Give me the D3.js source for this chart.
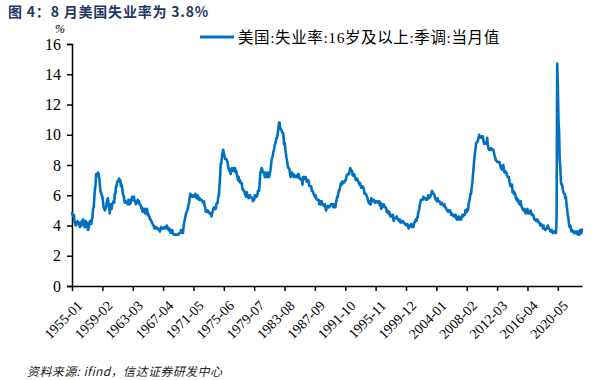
<!DOCTYPE html>
<html>
<head>
<meta charset="utf-8">
<script src="https://cdn.jsdelivr.net/npm/d3@7"></script>
<style>
    body { margin: 0; background: #fff; }
    svg { display: block; }
</style>
</head>
<body>
<svg id="chart" width="603" height="380"></svg>
<script>
// Monthly US unemployment rate (%), one row per year starting 1955
const startYear = 1955;
const yearlyRows = [
    [4.9, 4.7, 4.6, 4.7, 4.3, 4.2, 4.0, 4.2, 4.1, 4.3, 4.2, 4.2],
    [4.0, 3.9, 4.2, 4.0, 4.3, 4.3, 4.4, 4.1, 3.9, 3.9, 4.3, 4.2],
    [4.2, 3.9, 3.7, 3.9, 4.1, 4.3, 4.2, 4.1, 4.4, 4.5, 5.1, 5.2],
    [5.8, 6.4, 6.7, 7.4, 7.4, 7.3, 7.5, 7.4, 7.1, 6.7, 6.2, 6.2],
    [6.0, 5.9, 5.6, 5.2, 5.1, 5.0, 5.1, 5.2, 5.5, 5.7, 5.8, 5.3],
    [5.2, 4.8, 5.4, 5.2, 5.1, 5.4, 5.5, 5.6, 5.5, 6.1, 6.1, 6.6],
    [6.6, 6.9, 6.9, 7.0, 7.1, 6.9, 7.0, 6.6, 6.7, 6.5, 6.1, 6.0],
    [5.8, 5.5, 5.6, 5.6, 5.5, 5.5, 5.4, 5.7, 5.6, 5.4, 5.7, 5.5],
    [5.7, 5.9, 5.7, 5.7, 5.9, 5.6, 5.6, 5.4, 5.5, 5.5, 5.7, 5.5],
    [5.6, 5.4, 5.4, 5.3, 5.1, 5.2, 4.9, 5.0, 5.1, 5.1, 4.8, 5.0],
    [4.9, 5.1, 4.7, 4.8, 4.6, 4.6, 4.4, 4.4, 4.3, 4.2, 4.1, 4.0],
    [4.0, 3.8, 3.8, 3.8, 3.9, 3.8, 3.8, 3.8, 3.7, 3.7, 3.6, 3.8],
    [3.9, 3.8, 3.8, 3.8, 3.8, 3.9, 3.8, 3.8, 3.8, 4.0, 3.9, 3.8],
    [3.7, 3.8, 3.7, 3.5, 3.5, 3.7, 3.7, 3.5, 3.4, 3.4, 3.4, 3.4],
    [3.4, 3.4, 3.4, 3.4, 3.4, 3.5, 3.5, 3.5, 3.7, 3.7, 3.5, 3.5],
    [3.9, 4.2, 4.4, 4.6, 4.8, 4.9, 5.0, 5.1, 5.4, 5.5, 5.9, 6.1],
    [5.9, 5.9, 6.0, 5.9, 5.9, 5.9, 6.0, 6.1, 6.0, 5.8, 6.0, 6.0],
    [5.8, 5.7, 5.8, 5.7, 5.7, 5.7, 5.6, 5.6, 5.5, 5.6, 5.3, 5.2],
    [4.9, 5.0, 4.9, 5.0, 4.9, 4.9, 4.8, 4.8, 4.8, 4.6, 4.8, 4.9],
    [5.1, 5.2, 5.1, 5.1, 5.1, 5.4, 5.5, 5.5, 5.9, 6.0, 6.6, 7.2],
    [8.1, 8.1, 8.6, 8.8, 9.0, 8.8, 8.6, 8.4, 8.4, 8.4, 8.3, 8.2],
    [7.9, 7.7, 7.6, 7.7, 7.4, 7.6, 7.8, 7.8, 7.6, 7.7, 7.8, 7.8],
    [7.5, 7.6, 7.4, 7.2, 7.0, 7.2, 6.9, 7.0, 6.8, 6.8, 6.8, 6.4],
    [6.4, 6.3, 6.3, 6.1, 6.0, 5.9, 6.2, 5.9, 6.0, 5.8, 5.9, 6.0],
    [5.9, 5.9, 5.8, 5.8, 5.6, 5.7, 5.7, 6.0, 5.9, 6.0, 5.9, 6.0],
    [6.3, 6.3, 6.3, 6.9, 7.5, 7.6, 7.8, 7.7, 7.5, 7.5, 7.5, 7.2],
    [7.5, 7.4, 7.4, 7.2, 7.5, 7.5, 7.2, 7.4, 7.6, 7.9, 8.3, 8.5],
    [8.6, 8.9, 9.0, 9.3, 9.4, 9.6, 9.8, 9.8, 10.1, 10.4, 10.8, 10.8],
    [10.4, 10.4, 10.3, 10.2, 10.1, 10.1, 9.4, 9.5, 9.2, 8.8, 8.5, 8.3],
    [8.0, 7.8, 7.8, 7.7, 7.4, 7.2, 7.5, 7.5, 7.3, 7.4, 7.2, 7.3],
    [7.3, 7.2, 7.2, 7.3, 7.2, 7.4, 7.4, 7.1, 7.1, 7.1, 7.0, 7.0],
    [6.7, 7.2, 7.2, 7.1, 7.2, 7.2, 7.0, 6.9, 7.0, 7.0, 6.9, 6.6],
    [6.6, 6.6, 6.6, 6.3, 6.3, 6.2, 6.1, 6.0, 5.9, 6.0, 5.8, 5.7],
    [5.7, 5.7, 5.7, 5.4, 5.6, 5.4, 5.4, 5.6, 5.4, 5.4, 5.3, 5.3],
    [5.4, 5.2, 5.0, 5.2, 5.2, 5.3, 5.2, 5.2, 5.3, 5.3, 5.4, 5.4],
    [5.4, 5.3, 5.2, 5.4, 5.4, 5.2, 5.5, 5.7, 5.9, 5.9, 6.2, 6.3],
    [6.4, 6.6, 6.8, 6.7, 6.9, 6.9, 6.8, 6.9, 6.9, 7.0, 7.0, 7.3],
    [7.3, 7.4, 7.4, 7.4, 7.6, 7.8, 7.7, 7.6, 7.6, 7.3, 7.4, 7.4],
    [7.3, 7.1, 7.0, 7.1, 7.1, 7.0, 6.9, 6.8, 6.7, 6.8, 6.6, 6.5],
    [6.6, 6.6, 6.5, 6.4, 6.1, 6.1, 6.1, 6.0, 5.9, 5.8, 5.6, 5.5],
    [5.6, 5.4, 5.4, 5.8, 5.6, 5.6, 5.7, 5.7, 5.6, 5.5, 5.6, 5.6],
    [5.6, 5.5, 5.5, 5.6, 5.6, 5.3, 5.5, 5.1, 5.2, 5.2, 5.4, 5.4],
    [5.3, 5.2, 5.2, 5.1, 4.9, 5.0, 4.9, 4.8, 4.9, 4.7, 4.6, 4.7],
    [4.6, 4.6, 4.7, 4.3, 4.4, 4.5, 4.5, 4.5, 4.6, 4.5, 4.4, 4.4],
    [4.3, 4.4, 4.2, 4.3, 4.2, 4.3, 4.3, 4.2, 4.2, 4.1, 4.1, 4.0],
    [4.0, 4.1, 4.0, 3.8, 4.0, 4.0, 4.0, 4.1, 3.9, 3.9, 3.9, 3.9],
    [4.2, 4.2, 4.3, 4.4, 4.3, 4.5, 4.6, 4.9, 5.0, 5.3, 5.5, 5.7],
    [5.7, 5.7, 5.7, 5.9, 5.8, 5.8, 5.8, 5.7, 5.7, 5.7, 5.9, 6.0],
    [5.8, 5.9, 5.9, 6.0, 6.1, 6.3, 6.2, 6.1, 6.1, 6.0, 5.8, 5.7],
    [5.7, 5.6, 5.8, 5.6, 5.6, 5.6, 5.5, 5.4, 5.4, 5.5, 5.4, 5.4],
    [5.3, 5.4, 5.2, 5.2, 5.1, 5.0, 5.0, 4.9, 5.0, 5.0, 5.0, 4.9],
    [4.7, 4.8, 4.7, 4.7, 4.6, 4.6, 4.7, 4.7, 4.5, 4.4, 4.5, 4.4],
    [4.6, 4.5, 4.4, 4.5, 4.4, 4.6, 4.7, 4.6, 4.7, 4.7, 4.7, 5.0],
    [5.0, 4.9, 5.1, 5.0, 5.4, 5.6, 5.8, 6.1, 6.1, 6.5, 6.8, 7.3],
    [7.8, 8.3, 8.7, 9.0, 9.4, 9.5, 9.5, 9.6, 9.8, 10.0, 9.9, 9.9],
    [9.8, 9.8, 9.9, 9.9, 9.6, 9.4, 9.4, 9.5, 9.5, 9.4, 9.8, 9.3],
    [9.1, 9.0, 9.0, 9.1, 9.0, 9.1, 9.0, 9.0, 9.0, 8.8, 8.6, 8.5],
    [8.3, 8.3, 8.2, 8.2, 8.2, 8.2, 8.2, 8.0, 7.8, 7.8, 7.7, 7.9],
    [8.0, 7.7, 7.5, 7.6, 7.5, 7.5, 7.3, 7.2, 7.2, 7.2, 6.9, 6.7],
    [6.6, 6.7, 6.7, 6.2, 6.3, 6.1, 6.2, 6.1, 5.9, 5.7, 5.8, 5.6],
    [5.7, 5.5, 5.4, 5.4, 5.6, 5.3, 5.2, 5.1, 5.0, 5.0, 5.1, 5.0],
    [4.8, 4.9, 5.0, 5.1, 4.8, 4.9, 4.8, 4.9, 5.0, 4.9, 4.7, 4.7],
    [4.7, 4.6, 4.4, 4.4, 4.4, 4.3, 4.3, 4.4, 4.3, 4.2, 4.2, 4.1],
    [4.0, 4.1, 4.0, 4.0, 3.8, 4.0, 3.8, 3.8, 3.7, 3.8, 3.8, 3.9],
    [4.0, 3.8, 3.8, 3.7, 3.6, 3.6, 3.7, 3.6, 3.5, 3.6, 3.6, 3.6],
    [3.5, 3.5, 4.4, 14.7, 13.2, 11.0, 10.2, 8.4, 7.8, 6.9, 6.7, 6.7],
    [6.4, 6.2, 6.1, 6.1, 5.8, 5.9, 5.4, 5.1, 4.7, 4.5, 4.1, 3.9],
    [4.0, 3.8, 3.6, 3.7, 3.6, 3.6, 3.5, 3.6, 3.5, 3.6, 3.6, 3.5],
    [3.4, 3.6, 3.5, 3.4, 3.7, 3.6, 3.5, 3.8]
];
const yTicks = [0, 2, 4, 6, 8, 10, 12, 14, 16];
const tickStep = 49; // months between x labels

const titleText = '图 4：8 月美国失业率为 3.8%';
const legendText = '美国:失业率:16岁及以上:季调:当月值';
const sourceText = '资料来源: ifind，信达证券研发中心';

// flatten into month records
const data = [];
yearlyRows.forEach((row, i) => {
    row.forEach((v, m) => {
        data.push({ label: `${startYear + i}-${String(m + 1).padStart(2, '0')}`, value: v });
    });
});

const svg = d3.select('#chart');
const margin = { top: 44, right: 21, bottom: 94, left: 72 };
const width = 603 - margin.left - margin.right;
const height = 380 - margin.top - margin.bottom;
const serif = '"Liberation Serif", "Times New Roman", "Noto Sans CJK SC", serif';

const g = svg.append('g')
    .attr('transform', `translate(${margin.left},${margin.top})`);

// x is the month index, y the rate
const x = d3.scaleLinear()
    .domain([0, data.length - 1])
    .range([0, width]);

const y = d3.scaleLinear()
    .domain([0, 16])
    .range([height, 0]);

// Y-axis
const yAxis = g.append('g')
    .call(d3.axisLeft(y).tickValues(yTicks).tickSize(5).tickPadding(6));
yAxis.select('.domain').attr('stroke', '#000').attr('stroke-width', 1.5);
yAxis.selectAll('line').attr('stroke', '#000').attr('stroke-width', 1.5);
yAxis.selectAll('text')
    .attr('font-family', serif)
    .attr('font-size', 16)
    .attr('fill', '#000');

// % unit above the axis, just over the 16
svg.append('text')
    .attr('x', 55)
    .attr('y', 33)
    .attr('font-family', serif)
    .attr('font-style', 'italic')
    .attr('font-size', 12)
    .text('%');

// X-axis
const tickIdx = d3.range(0, data.length, tickStep);
const xAxis = g.append('g')
    .attr('transform', `translate(0,${height})`)
    .call(d3.axisBottom(x)
        .tickValues(tickIdx)
        .tickFormat(i => data[i].label)
        .tickSize(5)
        .tickSizeOuter(0));
xAxis.select('.domain').attr('stroke', '#000').attr('stroke-width', 1.5);
xAxis.selectAll('line').attr('stroke', '#000').attr('stroke-width', 1.5);
xAxis.selectAll('text')
    .attr('font-family', serif)
    .attr('font-size', 14)
    .attr('fill', '#000')
    .attr('text-anchor', 'end')
    .attr('dy', null)
    .attr('transform', 'translate(5,15) rotate(-45)');

// The line
const line = d3.line()
    .x((d, i) => x(i))
    .y(d => y(d.value));

g.append('path')
    .datum(data)
    .attr('fill', 'none')
    .attr('stroke', '#0070C0')
    .attr('stroke-width', 2.6)
    .attr('stroke-linejoin', 'round')
    .attr('d', line);

// Legend
svg.append('line')
    .attr('x1', 200).attr('x2', 234)
    .attr('y1', 37).attr('y2', 37)
    .attr('stroke', '#0070C0')
    .attr('stroke-width', 3);
svg.append('text')
    .attr('x', 238)
    .attr('y', 43)
    .attr('font-family', serif)
    .attr('font-size', 15.5)
    .attr('letter-spacing', 0.6)
    .attr('fill', '#000')
    .text(legendText);

// Title
svg.append('text')
    .attr('x', 8)
    .attr('y', 17)
    .attr('font-family', '"Noto Sans CJK SC", "Noto Sans", sans-serif')
    .attr('font-weight', 'bold')
    .attr('font-size', 14)
    .attr('letter-spacing', 0.8)
    .attr('fill', '#1F3864')
    .text(titleText);

// Source
svg.append('text')
    .attr('x', 27)
    .attr('y', 376)
    .attr('font-family', '"Noto Sans CJK SC", "Liberation Sans", sans-serif')
    .attr('font-style', 'italic')
    .attr('font-size', 12)
    .attr('letter-spacing', 0.4)
    .attr('fill', '#222')
    .text(sourceText);
</script>
</body>
</html>
